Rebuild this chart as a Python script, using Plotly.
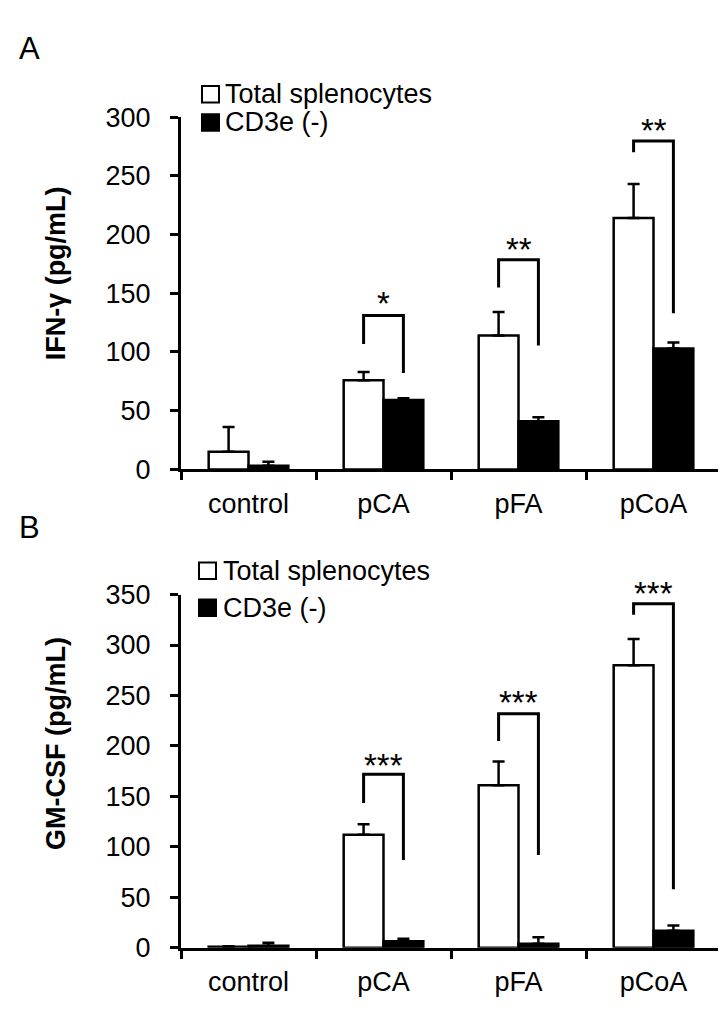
import plotly.graph_objects as go

# ---------------- data ----------------
categories = ["control", "pCA", "pFA", "pCoA"]
series_names = ["Total splenocytes", "CD3e (-)"]

ifn_total = [15, 76, 114, 214]
ifn_total_err = [21, 7, 20, 29]
ifn_cd3e = [3, 59, 41, 103]
ifn_cd3e_err = [3.5, 1.5, 3.5, 5]

gm_total = [1, 112, 161, 280]
gm_total_err = [0.5, 10.5, 23.5, 26]
gm_cd3e = [2, 6.5, 4, 17]
gm_cd3e_err = [3, 2.5, 6.5, 5]

# significance brackets: (category index, left leg bottom, top, right leg bottom, star level, label)
ifn_sig = [(1, 106.8, 131, 82, 147.4, "*"),
           (2, 155, 178.5, 105.5, 193.4, "**"),
           (3, 270, 279.6, 133, 294.8, "**")]
gm_sig = [(1, 143.5, 172, 87, 187.7, "***"),
          (2, 205, 232, 92, 250, "***"),
          (3, 330, 341, 58, 358.6, "***")]

ifn_ticks = [0, 50, 100, 150, 200, 250, 300]
gm_ticks = [0, 50, 100, 150, 200, 250, 300, 350]
ifn_range = [0, 300]
gm_range = [0, 350]

# ---------------- layout helpers ----------------
W, H = 726, 1014
FONT = "Liberation Sans, Arial, sans-serif"


def px(x):
    return x / W


def py(y):
    return 1 - y / H


BARGAP = 0.41
HALF = (1 - BARGAP) / 4  # offset of each bar centre from category centre
STAR_SIZE = 33

fig = go.Figure()


def add_bars(xa, ya, total, total_err, cd3e, cd3e_err):
    fig.add_trace(go.Bar(
        x=categories, y=total, name=series_names[0], xaxis=xa, yaxis=ya,
        marker=dict(color="white", line=dict(color="black", width=2.5)),
        error_y=dict(type="data", symmetric=False, array=total_err,
                     arrayminus=[0] * len(total_err), color="black",
                     thickness=2.5, width=6),
        showlegend=False))
    fig.add_trace(go.Bar(
        x=categories, y=cd3e, name=series_names[1], xaxis=xa, yaxis=ya,
        marker=dict(color="black", line=dict(color="black", width=2.5)),
        error_y=dict(type="data", symmetric=False, array=cd3e_err,
                     arrayminus=[0] * len(cd3e_err), color="black",
                     thickness=2.5, width=6),
        showlegend=False))


add_bars("x", "y", ifn_total, ifn_total_err, ifn_cd3e, ifn_cd3e_err)
add_bars("x2", "y2", gm_total, gm_total_err, gm_cd3e, gm_cd3e_err)

shapes = []
annotations = []


def add_sig(sig, xref, yref, yrange):
    for ci, lb, top, rb, star_y, label in sig:
        xl, xr = ci - HALF, ci + HALF
        shapes.append(dict(type="path", xref=xref, yref=yref,
                           path=f"M{xl},{lb} L{xl},{top} L{xr},{top} L{xr},{rb}",
                           line=dict(color="black", width=3)))
        # stars placed in axis-domain units so they stay visible above the range
        annotations.append(dict(x=ci, y=(star_y - yrange[0]) / (yrange[1] - yrange[0]),
                                xref=xref, yref=yref + " domain", text=label,
                                xanchor="center", yanchor="middle",
                                showarrow=False, yshift=-0.22 * STAR_SIZE,
                                font=dict(family=FONT, size=STAR_SIZE, color="black")))


add_sig(ifn_sig, "x", "y", ifn_range)
add_sig(gm_sig, "x2", "y2", gm_range)


def paper_text(x, y, text, size, angle=0):
    annotations.append(dict(x=px(x), y=py(y), xref="paper", yref="paper", text=text,
                            xanchor="center", yanchor="middle", textangle=angle,
                            showarrow=False, font=dict(family=FONT, size=size, color="black")))


# panel letters
paper_text(21, 26, "A", 31)
paper_text(21, 520, "B", 31)

# y-axis titles
paper_text(48, 258, "<b>IFN-γ (pg/mL)</b>", 27, -90)
paper_text(48, 743, "<b>GM-CSF (pg/mL)</b>", 27, -90)

# legends (box + label)
legend_rows = [
    (73.5, 102.5, 194, 215),   # panel A: row1 y, row2 y, box x, text x
    (564.5, 602.5, 191, 213),  # panel B
]
BOX = 17
for r1, r2, bx, tx in legend_rows:
    for yc, fillc, label in [(r1, "white", series_names[0]), (r2, "black", series_names[1])]:
        shapes.append(dict(type="rect", xref="paper", yref="paper",
                           x0=px(bx), x1=px(bx + BOX), y0=py(yc + BOX / 2), y1=py(yc - BOX / 2),
                           fillcolor=fillc, line=dict(color="black", width=2)))
        annotations.append(dict(x=px(tx), y=py(yc), xref="paper", yref="paper",
                                text=label, showarrow=False, xanchor="left", yanchor="middle",
                                font=dict(family=FONT, size=27, color="black")))

axis_common = dict(showline=True, linecolor="black", linewidth=3, ticks="outside",
                   ticklen=8, tickwidth=3, tickcolor="black", showgrid=False,
                   zeroline=False, tickfont=dict(family=FONT, size=27, color="black"))

xdom = [px(173), px(713)]

fig.update_layout(
    width=W, height=H,
    margin=dict(l=0, r=0, t=0, b=0),
    paper_bgcolor="white", plot_bgcolor="white",
    barmode="group", bargap=BARGAP, bargroupgap=0,
    xaxis=dict(domain=xdom, anchor="y", type="category", tickson="boundaries",
               ticklabelstandoff=8, **axis_common),
    yaxis=dict(domain=[py(460), py(97)], anchor="x", range=ifn_range,
               tickvals=ifn_ticks, ticklabelstandoff=14, **axis_common),
    xaxis2=dict(domain=xdom, anchor="y2", type="category", tickson="boundaries",
                ticklabelstandoff=8, **axis_common),
    yaxis2=dict(domain=[py(953), py(589)], anchor="x2", range=gm_range,
                tickvals=gm_ticks, ticklabelstandoff=14, **axis_common),
    shapes=shapes,
    annotations=annotations,
    showlegend=False,
)

fig.write_html("out.html")
